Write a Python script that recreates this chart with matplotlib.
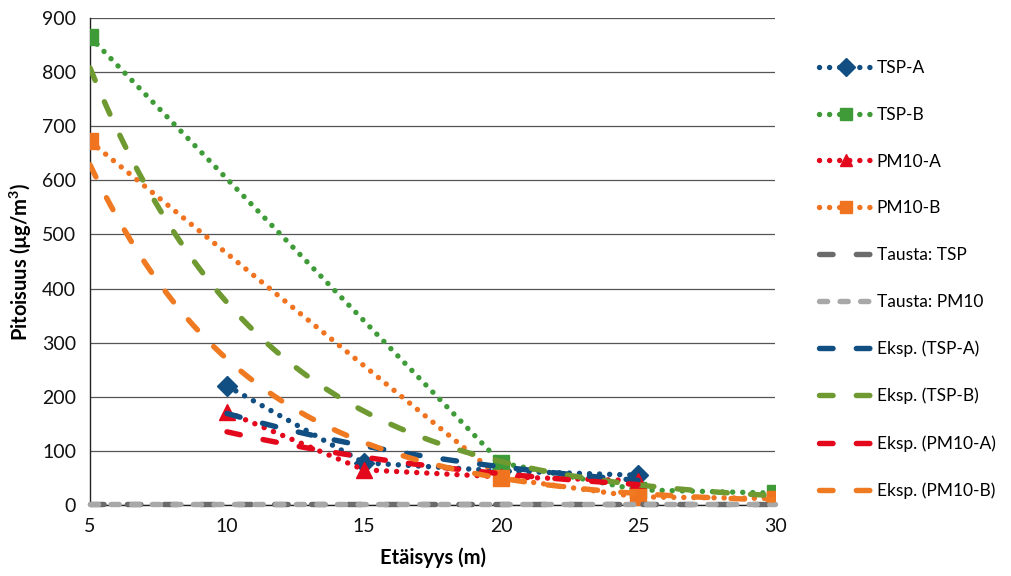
import numpy as np
import matplotlib
matplotlib.use("Agg")
import matplotlib.pyplot as plt

plt.rcParams['font.family'] = ['Lato', 'DejaVu Sans']
plt.rcParams['mathtext.fontset'] = 'custom'
plt.rcParams['mathtext.rm'] = 'Lato'
plt.rcParams['mathtext.bf'] = 'Lato:bold'

# ---- data ----
x_tsp_a = [10, 15, 20, 25]
y_tsp_a = [220, 78, 63, 55]

x_tsp_b = [5, 20, 25, 30]
y_tsp_b = [865, 78, 28, 22]

x_pm10_a = [10, 15, 20, 25]
y_pm10_a = [172, 65, 52, 45]

x_pm10_b = [5, 20, 25, 30]
y_pm10_b = [672, 50, 15, 12]

x_bg = [5, 30]
y_bg_tsp = [2, 2]
y_bg_pm10 = [1.5, 1.5]

x_ticks = [5, 10, 15, 20, 25, 30]
y_ticks = [0, 100, 200, 300, 400, 500, 600, 700, 800, 900]

labels = ['TSP-A', 'TSP-B', 'PM10-A', 'PM10-B', 'Tausta: TSP', 'Tausta: PM10',
          'Eksp. (TSP-A)', 'Eksp. (TSP-B)', 'Eksp. (PM10-A)', 'Eksp. (PM10-B)']

c_tsp_a = '#114E82'
c_tsp_b = '#3F9B38'
c_pm10_a = '#E3081C'
c_pm10_b = '#F07320'
c_bg_tsp = '#6B6B6B'
c_bg_pm10 = '#A8A8A8'
c_ex_tsp_a = '#114E82'
c_ex_tsp_b = '#6E9A31'
c_ex_pm10_a = '#E3081C'
c_ex_pm10_b = '#F07A22'

fig = plt.figure(figsize=(10.11, 5.76), dpi=100)
ax = fig.add_axes([90/1011, 71/576, 685/1011, 487/576])

LW = 3.9
dot = (0, (0.01, 1.85))
longdash = (0, (2.5, 4.3))
shortdash = (0, (1.5, 2.3))

handles = []
def dotted(x, y, c, m, ms):
    h, = ax.plot(x, y, color=c, lw=LW, linestyle=dot, dash_capstyle='round',
                 marker=m, markersize=ms, markerfacecolor=c, markeredgecolor=c,
                 zorder=3)
    return h

handles.append(dotted(x_tsp_a, y_tsp_a, c_tsp_a, 'D', 10))
handles.append(dotted(x_tsp_b, y_tsp_b, c_tsp_b, 's', 11))
handles.append(dotted(x_pm10_a, y_pm10_a, c_pm10_a, '^', 12))
handles.append(dotted(x_pm10_b, y_pm10_b, c_pm10_b, 's', 11))

h, = ax.plot(x_bg, y_bg_tsp, color=c_bg_tsp, lw=LW, linestyle=longdash,
             dash_capstyle='round', zorder=4, clip_on=False)
handles.append(h)
h, = ax.plot(x_bg, y_bg_pm10, color=c_bg_pm10, lw=LW, linestyle=shortdash,
             dash_capstyle='round', zorder=4, clip_on=False)
handles.append(h)

def exp_trend(x, y, c):
    x = np.asarray(x, float)
    y = np.asarray(y, float)
    b, lna = np.polyfit(x, np.log(y), 1)
    xs = np.linspace(x.min(), x.max(), 200)
    h, = ax.plot(xs, np.exp(lna) * np.exp(b * xs), color=c, lw=LW,
                 linestyle=longdash, dash_capstyle='round', zorder=5)
    return h

handles.append(exp_trend(x_tsp_a, y_tsp_a, c_ex_tsp_a))
handles.append(exp_trend(x_tsp_b, y_tsp_b, c_ex_tsp_b))
handles.append(exp_trend(x_pm10_a, y_pm10_a, c_ex_pm10_a))
handles.append(exp_trend(x_pm10_b, y_pm10_b, c_ex_pm10_b))

ax.set_xlim(5, 30)
ax.set_ylim(0, 900)
ax.set_xticks(x_ticks)
ax.set_yticks(y_ticks)
ax.tick_params(axis='both', length=0, labelsize=14, colors='#111111')
ax.tick_params(axis='x', pad=9)
ax.tick_params(axis='y', pad=10)
ax.grid(axis='y', color='#555555', lw=0.9)
ax.set_axisbelow(True)
for s in ['top', 'right']:
    ax.spines[s].set_visible(False)
ax.spines['left'].set_color('#222222')
ax.spines['left'].set_linewidth(1.0)
ax.spines['bottom'].set_color('#222222')
ax.spines['bottom'].set_linewidth(1.0)

ax.set_xlabel('Etäisyys (m)', fontsize=14.5, fontweight='bold', labelpad=9)
ax.set_ylabel(r'Pitoisuus (µg/m$^\mathbf{3}$)', fontsize=14.5, fontweight='bold', labelpad=6)

leg = fig.legend(handles, labels, loc='center left',
                 bbox_to_anchor=(803/1011, 1 - 279.5/576), frameon=False,
                 fontsize=12.5, handlelength=3.2, handletextpad=0.15,
                 labelspacing=1.77, numpoints=1)
for lh in leg.legend_handles[:4]:
    lh.set_markersize(9)

fig.savefig('out.png', dpi=100)
